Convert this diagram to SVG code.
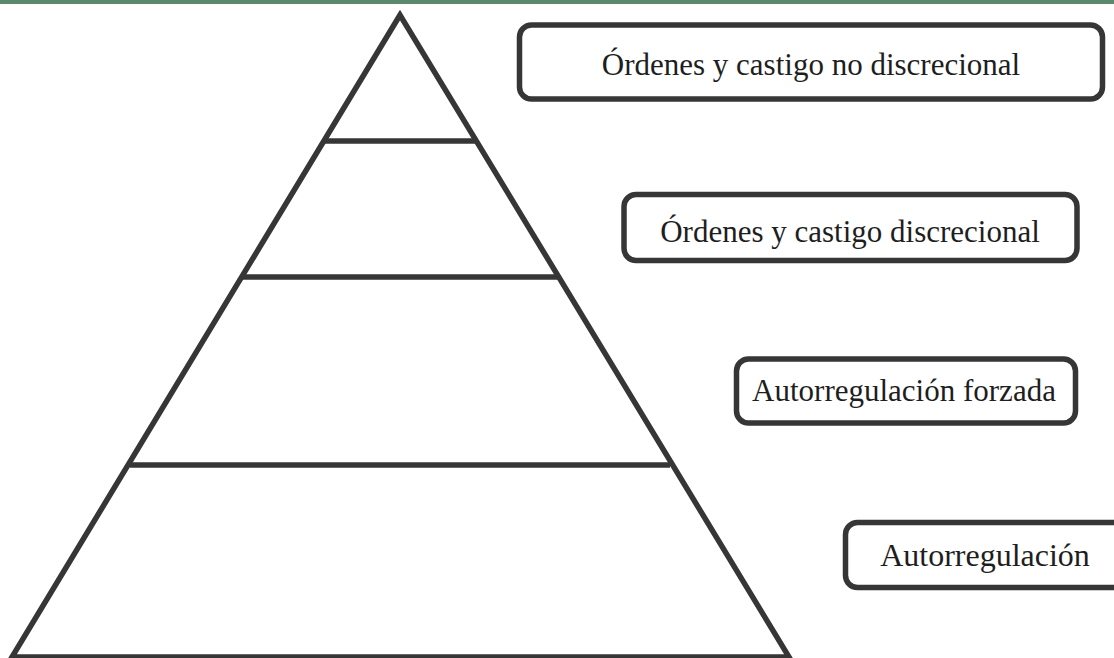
<svg xmlns="http://www.w3.org/2000/svg" width="1114" height="658" viewBox="0 0 1114 658">
<style>
.ln{stroke:#363636;stroke-width:5.5;fill:none;stroke-linejoin:miter}
.box{fill:#fff;stroke:#363636;stroke-width:5.5}
.t{font-family:"Liberation Serif","Times New Roman",serif;font-size:31px;fill:#1e1e1e;text-anchor:middle}
</style>
<rect width="1114" height="658" fill="#fff"/>
<rect x="0" y="0" width="1114" height="4" fill="#5a8a6e"/>
<g id="pyramid">
<polygon class="ln" points="400,15 12,657 789,657"/>
<line class="ln" x1="324" y1="141" x2="476" y2="141"/>
<line class="ln" x1="242" y1="277" x2="558" y2="277"/>
<line class="ln" x1="130" y1="465" x2="670" y2="465"/>
</g>
<g id="box1">
<rect class="box" x="519.5" y="25" width="583" height="74" rx="12"/>
<text class="t" x="811" y="75">Órdenes y castigo no discrecional</text>
</g>
<g id="box2">
<rect class="box" x="624" y="194.5" width="453" height="66" rx="12"/>
<text class="t" x="850" y="242">Órdenes y castigo discrecional</text>
</g>
<g id="box3">
<rect class="box" x="736.5" y="359" width="339" height="64" rx="12"/>
<text class="t" x="904" y="401">Autorregulación forzada</text>
</g>
<g id="box4">
<rect class="box" x="845.5" y="522.5" width="290" height="65" rx="12"/>
<text class="t" x="985" y="566" style="font-size:32px">Autorregulación</text>
</g>
<g id="connectors"></g>
</svg>
